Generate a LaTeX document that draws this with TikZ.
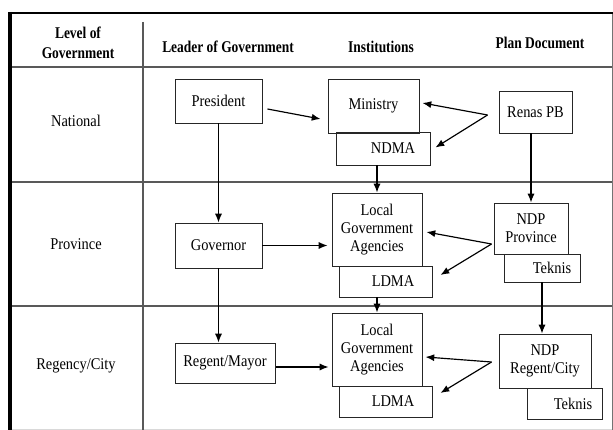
\documentclass[tikz,border=0pt]{standalone}
\usepackage{fontspec}
\setmainfont[FakeStretch=0.88]{Liberation Serif}
\newfontfamily\headfont[FakeStretch=0.82]{Liberation Serif}
\usetikzlibrary{arrows.meta,calc}

\begin{document}
\begin{tikzpicture}[x=0.03cm,y=-0.03cm,
    box/.style={draw=black!85,line width=0.8pt,inner sep=2pt,align=center,font=\fontsize{14}{15.7}\selectfont},
    arr/.style={line width=1pt,-{Latex[length=7.5pt,width=6pt]}},
    rule/.style={draw=black!65,line width=1.1pt},
    lbl/.style={font=\fontsize{14}{15.7}\selectfont,align=center},
    head/.style={font=\fontsize{14}{17}\headfont\bfseries,align=center}]
  \useasboundingbox (0,0) rectangle (613,430);
  %\draw[help lines,step=50] (0,0) grid (613,430);
  % table
  \draw[black!55,line width=0.8pt] (612,13) -- (612,430);
  \draw[black!15] (10,429) -- (612,429);
  \draw[rule] (10,67) -- (612,67);
  \draw[rule] (10,182) -- (612,182);
  \draw[rule] (10,306) -- (612,306);
  \draw[rule] (143,22) -- (143,430);
  \draw[line width=2pt] (9,13) -- (613,13);
  \draw[line width=3pt] (10,12) -- (10,430);
  % header and levels
  \node[head] (hlevel) at (78,43) {Level of\\Government};
  \node[head] (hleader) at (228,47) {Leader of Government};
  \node[head] (hinst) at (381,47) {Institutions};
  \node[head] (hplan) at (540,43) {Plan Document};
  \node[lbl] (national) at (76,121) {National};
  \node[lbl] (province) at (76,244) {Province};
  \node[lbl] (regency) at (76,366) {Regency/City};
  % national
  \node[box,minimum width=2.61cm,minimum height=1.32cm] (pres) at (218.5,101) {President};
  \node[box,minimum width=2.73cm,minimum height=1.62cm] (min) at (373.5,106) {Ministry};
  \node[box,minimum width=2.82cm,minimum height=0.99cm] (ndma) at (383,148.5) {\hspace*{0.6cm}NDMA};
  \node[box,minimum width=2.19cm,minimum height=1.26cm] (renas) at (535.5,112) {Renas PB};
  % province
  \node[box,minimum width=2.61cm,minimum height=1.35cm] (gov) at (218.5,245.5) {Governor};
  \node[box,minimum width=2.7cm,minimum height=2.19cm] (lga1) at (377,229.5) {Local\\Government\\Agencies};
  \node[box,minimum width=2.79cm,minimum height=0.93cm] (ldma1) at (385.5,281.5) {\hspace*{0.45cm}LDMA};
  \node[box,minimum width=2.22cm,minimum height=1.53cm] (ndpprov) at (531,228.5) {NDP\\Province};
  \node[box,minimum width=2.28cm,minimum height=0.84cm] (tek1) at (542,268) {\hspace*{0.6cm}Teknis};
  % regency / city
  \node[box,minimum width=3cm,minimum height=1.2cm] (reg) at (225,363) {Regent/Mayor};
  \node[box,minimum width=2.7cm,minimum height=2.19cm] (lga2) at (377,349.5) {Local\\Government\\Agencies};
  \node[box,minimum width=2.79cm,minimum height=0.93cm] (ldma2) at (385.5,401.5) {\hspace*{0.45cm}LDMA};
  \node[box,minimum width=2.76cm,minimum height=1.62cm] (ndpreg) at (545,361) {NDP\\Regent/City};
  \node[box,minimum width=2.25cm,minimum height=0.93cm] (tek2) at (564.5,403.5) {\hspace*{0.51cm}Teknis};
  % leaders
  \draw[arr] ($(pres.east)+(5,8)$) -- ($(min.west)+(-7,13)$);
  \draw[arr] (pres) -- (gov);
  \draw[arr] (gov.east) -- ($(gov.east -| lga1.west)+(-4,0)$);
  \draw[arr] (gov) -- (gov.south |- reg.north);
  \draw[arr] ($(reg.east)+(1,4)$) -- ($(reg.east -| lga2.west)+(-3,4)$);
  % institutions
  \draw[arr] (lga1.north |- ndma.south) -- (lga1.north);
  \draw[arr] (lga2.north |- ldma1.south) -- (lga2.north);
  % plan documents
  \draw[arr] (ndpprov.north |- renas.south) -- (ndpprov.north);
  \draw[arr] (tek1.south) -- (tek1.south |- ndpreg.north);
  \coordinate (f1) at ($(renas.west)+(-11,3)$);
  \coordinate (f2) at ($(ndpprov.west)+(-2,15.5)$);
  \coordinate (f3) at ($(ndpreg.west)+(-7,1)$);
  \draw[arr] (f1) -- ($(min.east)+(3,-3)$);
  \draw[arr] (f1) -- ($(ndma.east)+(5,-1)$);
  \draw[arr] (f2) -- ($(lga1.east)+(4,2.5)$);
  \draw[arr] (f2) -- ($(ldma1.east)+(8,-6.5)$);
  \draw[arr] (f3) -- ($(lga2.east)+(3,7.5)$);
  \draw[arr] (f3) -- ($(ldma2.east)+(8,-8.5)$);
\end{tikzpicture}
\end{document}
